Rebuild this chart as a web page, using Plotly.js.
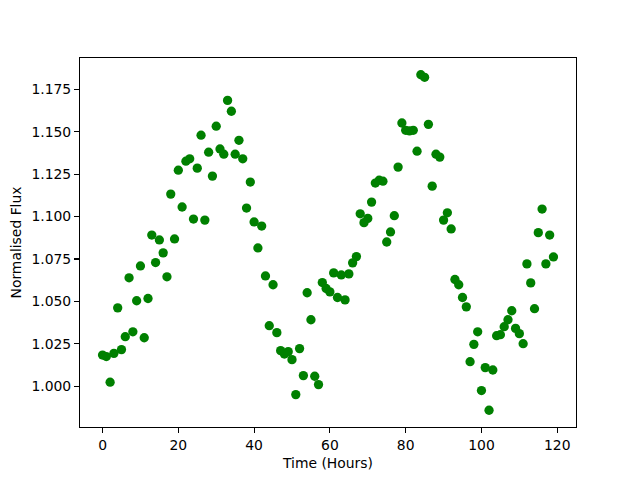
<!DOCTYPE html>
<html>
<head>
<meta charset="utf-8">
<script src="https://cdn.plot.ly/plotly-3.0.1.min.js"></script>
<style>html,body{margin:0;padding:0;background:#fff;}#chart{width:640px;height:480px;}</style>
</head>
<body>
<div id="chart"></div>
<script>
const hours = Array.from({length: 120}, (_, i) => i);
const flux = [
  1.0184, 1.0175, 1.0024, 1.0194, 1.0462, 1.0216, 1.0292, 1.0639, 1.0321, 1.0504,
  1.0709, 1.0286, 1.0517, 1.0891, 1.0729, 1.0862, 1.0786, 1.0645, 1.1132, 1.0868,
  1.1273, 1.1056, 1.1326, 1.1340, 1.0985, 1.1285, 1.1479, 1.0979, 1.1379, 1.1238,
  1.1532, 1.1398, 1.1367, 1.1684, 1.1620, 1.1367, 1.1449, 1.1340, 1.1050, 1.1203,
  1.0968, 1.0815, 1.0944, 1.0650, 1.0357, 1.0598, 1.0316, 1.0210, 1.0190, 1.0204,
  1.0157, 0.9951, 1.0222, 1.0063, 1.0551, 1.0392, 1.0059, 1.0010, 1.0611, 1.0576,
  1.0556, 1.0668, 1.0523, 1.0656, 1.0509, 1.0662, 1.0727, 1.0764, 1.1016, 1.0964,
  1.0989, 1.1085, 1.1197, 1.1214, 1.1208, 1.0850, 1.0909, 1.1005, 1.1291, 1.1551,
  1.1508, 1.1504, 1.1508, 1.1385, 1.1835, 1.1820, 1.1543, 1.1179, 1.1367, 1.1350,
  1.0979, 1.1022, 1.0927, 1.0629, 1.0598, 1.0523, 1.0468, 1.0145, 1.0247, 1.0321,
  0.9975, 1.0110, 0.9859, 1.0096, 1.0298, 1.0304, 1.0351, 1.0392, 1.0445, 1.0341,
  1.0310, 1.0251, 1.0721, 1.0609, 1.0457, 1.0905, 1.1044, 1.0721, 1.0891, 1.0762
];
const xTicks = [0, 20, 40, 60, 80, 100, 120];
const yTicks = [1.000, 1.025, 1.050, 1.075, 1.100, 1.125, 1.150, 1.175];
const xLabel = 'Time (Hours)';
const yLabel = 'Normalised Flux';

const xmin = Math.min(...hours), xmax = Math.max(...hours);
const ymin = Math.min(...flux), ymax = Math.max(...flux);
const xpad = (xmax - xmin) * 0.05, ypad = (ymax - ymin) * 0.05;

const font = {family: 'DejaVu Sans, sans-serif', size: 13.9, color: '#000'};
const axisCommon = {
  showline: true, linecolor: '#000', linewidth: 1.1, mirror: true,
  showgrid: false, zeroline: false,
  ticks: 'outside', ticklen: 4.9, tickwidth: 1.1, tickcolor: '#000',
  tickfont: font
};

Plotly.newPlot('chart', [{
  x: hours, y: flux, type: 'scatter', mode: 'markers',
  marker: {color: '#008000', size: 9.3, line: {width: 0}}
}], {
  width: 640, height: 480,
  margin: {l: 80, r: 64, t: 58, b: 53, pad: 0},
  paper_bgcolor: '#fff', plot_bgcolor: '#fff',
  showlegend: false,
  xaxis: Object.assign({}, axisCommon, {
    range: [xmin - xpad, xmax + xpad],
    tickvals: xTicks, ticktext: xTicks.map(String),
    title: {text: xLabel, font: font, standoff: 6}
  }),
  yaxis: Object.assign({}, axisCommon, {
    range: [ymin - ypad, ymax + ypad],
    tickvals: yTicks, ticktext: yTicks.map(v => v.toFixed(3)),
    title: {text: yLabel, font: font, standoff: 6}
  })
}, {displayModeBar: false, staticPlot: true});
</script>
</body>
</html>
